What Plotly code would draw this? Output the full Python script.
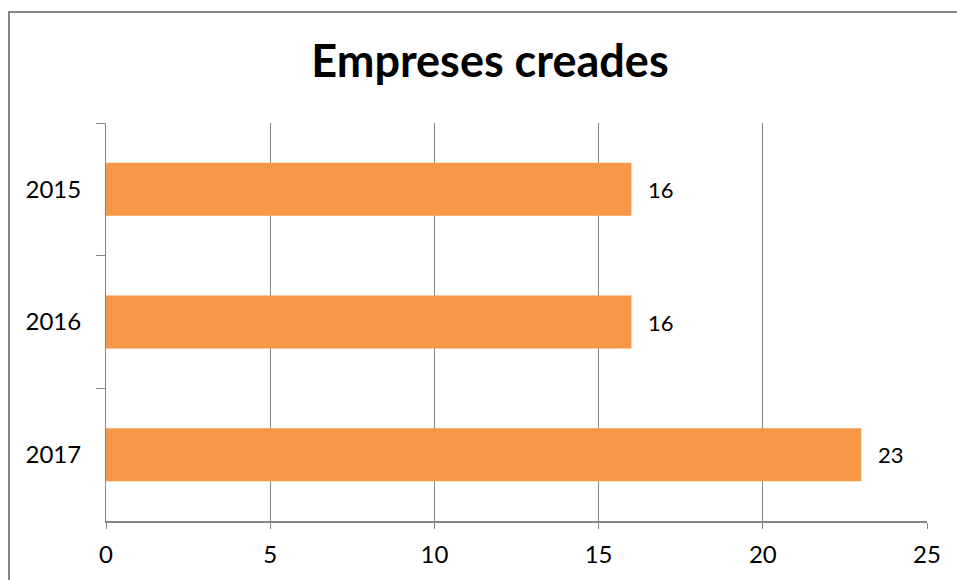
import plotly.graph_objects as go

years = ["2015", "2016", "2017"]
companies = [16, 16, 23]
x_ticks = [0, 5, 10, 15, 20, 25]

title_text = "Empreses creades"
bar_color = "#F79646"
line_color = "#868686"

fig = go.Figure()
fig.add_trace(go.Bar(
    y=years, x=companies, orientation="h",
    marker=dict(color=bar_color, line=dict(width=0)),
    hoverinfo="x+y",
))

# category axis: annotation y given as category index
for i, v in enumerate(companies):
    fig.add_annotation(x=v, y=i, text=str(v), showarrow=False,
                       xanchor="left", yanchor="middle", xshift=15,
                       font=dict(family="Lato", size=22, color="#000000"))

W, H = 957, 580
L, R, T, B = 106, 30, 123, 59
pw = W - L - R
ph = H - T - B

def px(xpix):
    return (xpix - L) / pw

def py(ypix):
    return (H - B - ypix) / ph

fig.add_shape(type="rect", xref="paper", yref="paper",
              x0=px(9), x1=px(990), y0=py(610), y1=py(12),
              line=dict(color=line_color, width=2), fillcolor="rgba(0,0,0,0)",
              layer="below")

fig.update_layout(
    width=W, height=H,
    margin=dict(l=L, r=R, t=T, b=B, pad=0, autoexpand=False),
    paper_bgcolor="white", plot_bgcolor="white",
    bargap=0.6,
    showlegend=False,
    title=dict(text="<b>" + title_text + "</b>", x=490 / W, xref="container", xanchor="center",
               y=1 - 61 / H, yref="container", yanchor="middle",
               font=dict(family="Lato", size=45, color="#000000")),
    xaxis=dict(range=[0, 25], tickvals=x_ticks, ticktext=[str(t) for t in x_ticks],
               automargin=False,
               showgrid=True, gridcolor=line_color, gridwidth=1,
               showline=True, linecolor=line_color, linewidth=2,
               ticks="outside", ticklen=6, tickcolor=line_color, tickwidth=1,
               ticklabelstandoff=5,
               zeroline=False,
               tickfont=dict(family="Lato", size=24, color="#000000")),
    yaxis=dict(type="category", categoryorder="array", categoryarray=years,
               range=[len(years) - 0.5, -0.5], automargin=False,
               showgrid=False, showline=True, linecolor=line_color, linewidth=1,
               ticks="outside", ticklen=9, tickcolor=line_color, tickwidth=1,
               tickson="boundaries", ticklabelstandoff=19,
               tickfont=dict(family="Lato", size=24, color="#000000")),
)

fig.write_html("out.html", post_script="document.body.style.margin='0';",
               config={"displayModeBar": False})
